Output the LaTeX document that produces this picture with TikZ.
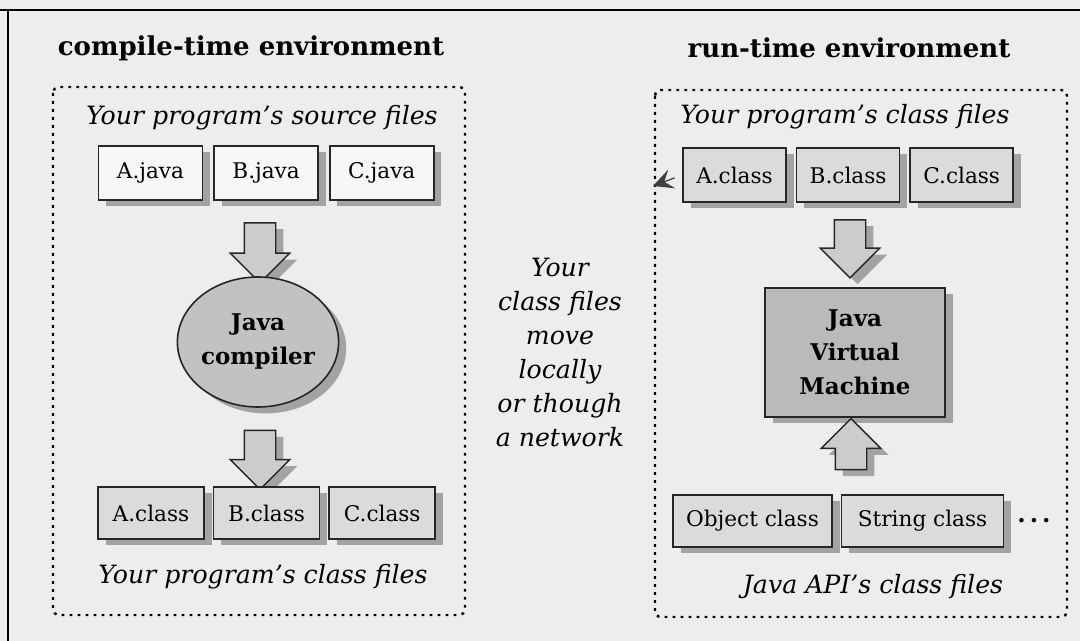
\documentclass[tikz,border=0pt]{standalone}
\usepackage{fontspec}
\setmainfont{DejaVu Serif}
\usetikzlibrary{positioning}
\usetikzlibrary{shapes.arrows,shapes.geometric,shadows,arrows.meta}

\tikzset{
  softshadow/.style={drop shadow={shadow xshift=3.8pt,shadow yshift=-3.2pt,fill=black!55,opacity=0.6}},
  filebox/.style={draw=black!85,line width=0.8pt,minimum height=27pt,minimum width=52pt,
    inner sep=0pt,font=\fontsize{10.8}{12}\selectfont,softshadow},
  srcfile/.style={filebox,fill=black!3},
  clsfile/.style={filebox,fill=black!14},
  blockarrow/.style={single arrow,draw=black!85,fill=black!20,line width=0.7pt,minimum width=29pt,
    single arrow head extend=7pt,inner sep=7.5pt,softshadow},
  envbox/.style={line width=1.2pt,dash pattern=on 1.4pt off 2.6pt,rounded corners=3pt},
  heading/.style={font=\fontsize{13}{16}\selectfont\bfseries},
  groupname/.style={font=\fontsize{12.6}{15}\selectfont\itshape},
  engine/.style={draw=black!85,line width=0.8pt,align=center,inner sep=0pt,
    font=\fontsize{11.5}{17}\selectfont\bfseries,softshadow}
}

\begin{document}
\begin{tikzpicture}[x=0.5pt,y=-0.5pt]
  \useasboundingbox (0,0) rectangle (1080,641);
  \fill[black!7] (0,0) rectangle (1080,641);
  \draw[line width=1.2pt] (0,10) -- (1080,10) (8,10) -- (8,641);

  % compile-time side
  \node[heading] (ctime) at (251,48) {compile-time environment};
  \draw[envbox] (53,87) rectangle (465,615);
  \node[groupname] (srcname) at (262,118) {Your program's source files};
  \node[srcfile] (ajava) at (150.5,173) {A.java};
  \node[srcfile,right=5pt of ajava] (bjava) {B.java};
  \node[srcfile,right=5pt of bjava] (cjava) {C.java};
  \node[blockarrow,shape border rotate=270,minimum height=30pt] (down1) at (260,245) {};
  \node[engine,ellipse,fill=black!24,minimum width=76.5pt,minimum height=65pt] (javac) at (258,342) {Java\\compiler};
  \node[blockarrow,shape border rotate=270,minimum height=29.5pt] (down2) at (260,452) {};
  \node[clsfile,minimum width=53pt,minimum height=26pt] (aclass) at (151,513) {A.class};
  \node[clsfile,minimum width=53pt,minimum height=26pt,right=4pt of aclass] (bclass) {B.class};
  \node[clsfile,minimum width=53pt,minimum height=26pt,right=4pt of bclass] (cclass) {C.class};
  \node[groupname] (clsname) at (263,577) {Your program's class files};

  % between the two
  \node[groupname,align=center,font=\fontsize{12.6}{17}\selectfont\itshape] (move) at (560,352)
    {Your\\class files\\move\\locally\\or though\\a network};

  % run-time side
  \node[heading] (rtime) at (849,48) {run-time environment};
  \draw[envbox] (655,90) rectangle (1067,617);
  \node[groupname] (loadname) at (845,117) {Your program's class files};
  \node[clsfile,minimum width=51.5pt] (aload) at (734.5,175) {A.class};
  \node[clsfile,minimum width=51.5pt,right=4.5pt of aload] (bload) {B.class};
  \node[clsfile,minimum width=51.5pt,right=4.5pt of bload] (cload) {C.class};
  \coordinate (hint) at (653,186);
  \draw[-{Stealth[length=10pt,width=10pt,inset=4pt]},draw=black!75,fill=black!75,line width=0.6pt,
    shorten <=4pt] (aload.west) -- (hint);
  \node[blockarrow,shape border rotate=270,minimum height=29pt] (down3) at (850,241) {};
  \node[engine,fill=black!27,minimum width=90pt,minimum height=64.5pt] (jvm) at (855,352.5) {Java\\Virtual\\Machine};
  \node[blockarrow,shape border rotate=90,minimum height=25.5pt] (up1) at (851,452) {};
  \node[clsfile,minimum width=79.5pt,minimum height=26pt] (objcls) at (752.5,521) {Object class};
  \node[clsfile,minimum width=81pt,minimum height=26pt,right=4pt of objcls] (strcls) {String class};
  \node[font=\fontsize{12}{14}\selectfont\bfseries,right=3pt of strcls] (more) {.\,.\,.};
  \node[groupname] (apiname) at (873,587) {Java API's class files};
\end{tikzpicture}
\end{document}
